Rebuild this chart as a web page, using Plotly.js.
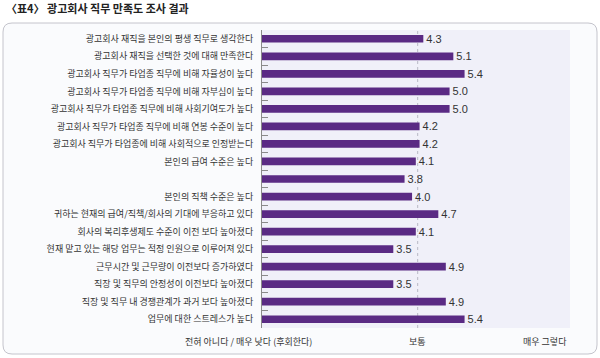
<!DOCTYPE html>
<html>
<head>
<meta charset="utf-8">
<script src="https://cdn.plot.ly/plotly-3.0.1.min.js"></script>
<style>html,body{margin:0;padding:0;background:#fff;}#chart{width:600px;height:358px;}</style>
</head>
<body>
<div id="chart"></div>
<script>
// ---- data ----
const categories = [
  "광고회사 재직을 본인의 평생 직무로 생각한다",
  "광고회사 재직을 선택한 것에 대해 만족한다",
  "광고회사 직무가 타업종 직무에 비해 자율성이 높다",
  "광고회사 직무가 타업종 직무에 비해 자부심이 높다",
  "광고회사 직무가 타업종 직무에 비해 사회기여도가 높다",
  "광고회사 직무가 타업종 직무에 비해 연봉 수준이 높다",
  "광고회사 직무가 타업종에 비해 사회적으로 인정받는다",
  "본인의 급여 수준은 높다",
  " ",
  "본인의 직책 수준은 높다",
  "귀하는 현재의 급여/직책/회사의 기대에 부응하고 있다",
  "회사의 복리후생제도 수준이 이전 보다 높아졌다",
  "현재 맡고 있는 해당 업무는 적정 인원으로 이루어져 있다",
  "근무시간 및 근무량이 이전보다 증가하였다",
  "직장 및 직무의 안정성이 이전보다 높아졌다",
  "직장 및 직무 내 경쟁관계가 과거 보다 높아졌다",
  "업무에 대한 스트레스가 높다"
];
const values = [4.3, 5.1, 5.4, 5.0, 5.0, 4.2, 4.2, 4.1, 3.8, 4.0, 4.7, 4.1, 3.5, 4.9, 3.5, 4.9, 5.4];
const scaleLabels = ["전혀 아니다 / 매우 낮다 (후회한다)", "보통", "매우 그렇다"];
const titleText = "〈표4〉 광고회사 직무 만족도 조사 결과";
const midValue = 4.15;
const xMax = 8.21;

// ---- layout helpers ----
const W = 600, H = 358;
const M = {l: 262, r: 30, t: 30, b: 30};
const PW = W - M.l - M.r, PH = H - M.t - M.b;
const px = x => (x - M.l) / PW;
const py = y => (H - M.b - y) / PH;
function roundRect(x0, y0, x1, y1, r) {
  const X = px, Y = py;
  return `M${X(x0 + r)},${Y(y0)} L${X(x1 - r)},${Y(y0)} Q${X(x1)},${Y(y0)} ${X(x1)},${Y(y0 + r)} ` +
         `L${X(x1)},${Y(y1 - r)} Q${X(x1)},${Y(y1)} ${X(x1 - r)},${Y(y1)} ` +
         `L${X(x0 + r)},${Y(y1)} Q${X(x0)},${Y(y1)} ${X(x0)},${Y(y1 - r)} ` +
         `L${X(x0)},${Y(y0 + r)} Q${X(x0)},${Y(y0)} ${X(x0 + r)},${Y(y0)} Z`;
}
const font = '"Noto Sans CJK KR", "Noto Sans", sans-serif';
const numFont = '"Liberation Sans", Arial, sans-serif';

const trace = {
  type: 'bar', orientation: 'h',
  x: values, y: categories,
  marker: {color: '#5a2a84'},
  width: 0.44,
  text: values.map(v => v.toFixed(1)),
  textposition: 'outside',
  constraintext: 'none',
  textfont: {family: numFont, size: 11, color: '#333'},
  cliponaxis: false,
  hoverinfo: 'skip'
};

const layout = {
  width: W, height: H,
  margin: M,
  paper_bgcolor: '#ffffff',
  plot_bgcolor: 'rgba(0,0,0,0)',
  showlegend: false,
  font: {family: font, color: '#333'},
  xaxis: {
    range: [0, xMax], showgrid: false, zeroline: false,
    showticklabels: false, ticks: '', showline: false, fixedrange: true
  },
  yaxis: {
    type: 'category', autorange: 'reversed',
    showgrid: false, zeroline: false,
    showline: true, linecolor: '#8a8a8a', linewidth: 1,
    ticks: 'inside', ticklen: 6, tickcolor: '#8a8a8a', tickson: 'boundaries',
    tickfont: {family: font, size: 9, color: '#333'},
    ticklabelstandoff: 6,
    fixedrange: true
  },
  shapes: [
    {type: 'path', xref: 'paper', yref: 'paper', layer: 'below',
     path: roundRect(3, 23, 597, 354, 9),
     fillcolor: '#fafbfd', line: {color: '#c4c4cc', width: 1}},
    {type: 'rect', xref: 'paper', yref: 'paper', layer: 'below',
     x0: 0, x1: 1, y0: 0, y1: 1,
     fillcolor: '#f0f0f9', line: {width: 0}},
    {type: 'line', xref: 'x', yref: 'paper', layer: 'below',
     x0: midValue, x1: midValue, y0: 0, y1: 1,
     line: {color: '#b8b8c4', width: 1, dash: 'dot'}}
  ],
  annotations: [
    {xref: 'paper', yref: 'paper', x: px(4), y: py(8), xanchor: 'left', yanchor: 'middle',
     text: '<b>' + titleText + '</b>', showarrow: false,
     font: {family: font, size: 11, color: '#222'}},
    {xref: 'paper', yref: 'paper', x: px(248), y: py(341), xanchor: 'center', yanchor: 'middle',
     text: scaleLabels[0], showarrow: false, font: {family: font, size: 9, color: '#333'}},
    {xref: 'x', yref: 'paper', x: midValue, y: py(341), xanchor: 'center', yanchor: 'middle',
     text: scaleLabels[1], showarrow: false, font: {family: font, size: 9, color: '#333'}},
    {xref: 'paper', yref: 'paper', x: px(569), y: py(341), xanchor: 'right', yanchor: 'middle',
     text: scaleLabels[2], showarrow: false, font: {family: font, size: 9, color: '#333'}}
  ]
};

Plotly.newPlot('chart', [trace], layout, {displayModeBar: false, staticPlot: true});
</script>
</body>
</html>
